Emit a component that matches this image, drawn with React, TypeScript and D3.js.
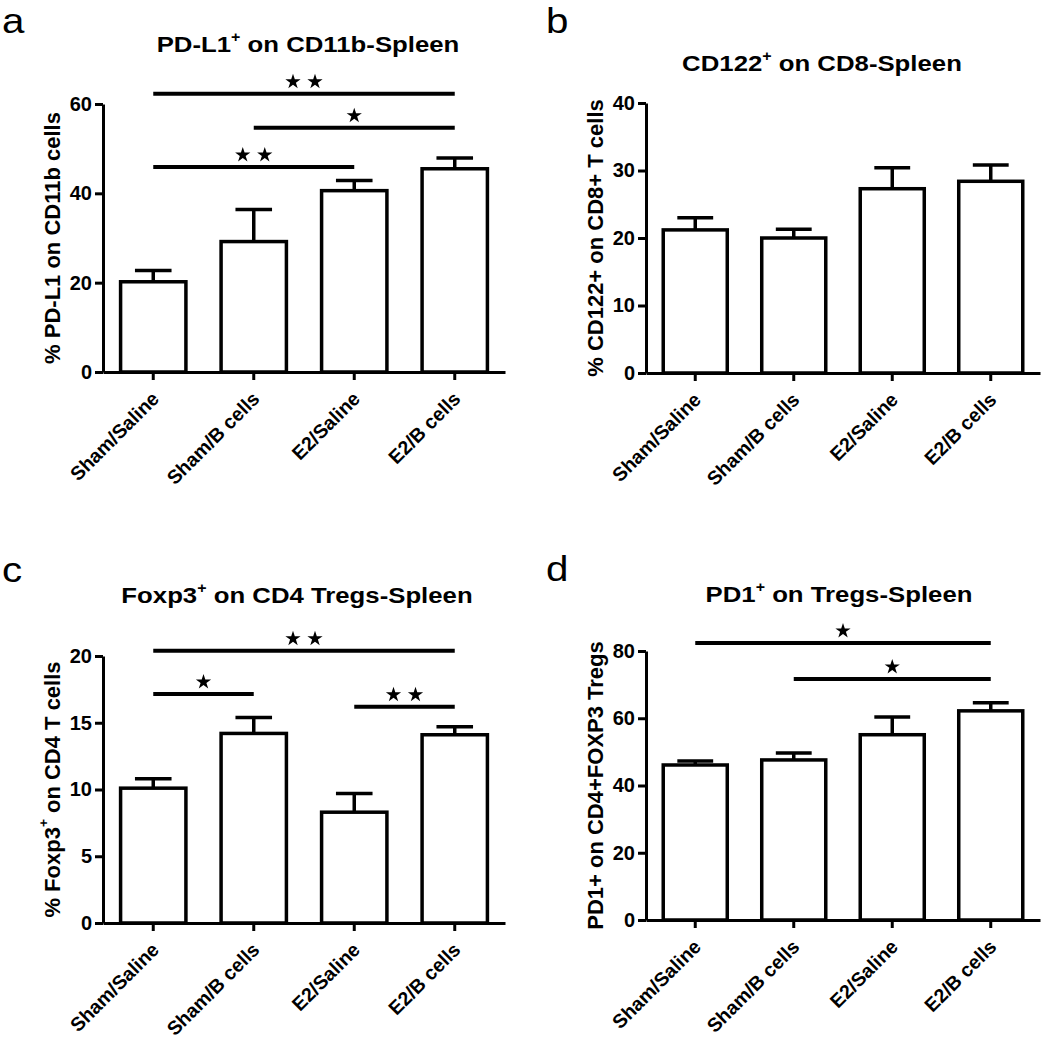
import React, { useEffect, useRef } from 'react';
import * as d3 from 'd3';

const groups = ['Sham/Saline', 'Sham/B cells', 'E2/Saline', 'E2/B cells'];

// a: PD-L1+ on CD11b
const pdl1Mean = [20.2, 29.2, 40.6, 45.5];
const pdl1Err = [2.5, 7.2, 2.3, 2.4];
const pdl1Ticks = [0, 20, 40, 60];

// b: CD122+ on CD8
const cd122Mean = [21.2, 20.0, 27.3, 28.4];
const cd122Err = [1.8, 1.3, 3.1, 2.4];
const cd122Ticks = [0, 10, 20, 30, 40];

// c: Foxp3+ on CD4
const foxp3Mean = [10.1, 14.2, 8.3, 14.1];
const foxp3Err = [0.7, 1.2, 1.4, 0.6];
const foxp3Ticks = [0, 5, 10, 15, 20];

// d: PD1+ on Tregs
const pd1Mean = [46.1, 47.6, 55.1, 62.2];
const pd1Err = [1.2, 2.1, 5.3, 2.4];
const pd1Ticks = [0, 20, 40, 60, 80];

// significance brackets: [from group, to group, height (data units), stars]
const pdl1Sig = [[0, 3, 62.3, 2], [1, 3, 54.7, 1], [0, 2, 45.9, 2]];
const cd122Sig: number[][] = [];
const foxp3Sig = [[0, 3, 20.4, 2], [0, 1, 17.15, 1], [2, 3, 16.2, 2]];
const pd1Sig = [[0, 3, 82.4, 1], [1, 3, 71.7, 1]];

const FONT = 'Arial, "Liberation Sans", Helvetica, sans-serif';
const SX = 1.12; // the original lettering is a bit wide

interface PanelSpec {
  letter: string;
  letterX: number;
  letterY: number;
  title: string[];
  titleX: number;
  titleY: number;
  yLabel: string[];
  yLabelX: number;
  mean: number[];
  err: number[];
  ticks: number[];
  sig: number[][];
  left: number;
  right: number;
  bottom: number;
  top: number;
}

const panels: PanelSpec[] = [
  {
    letter: 'a', letterX: 2, letterY: 33,
    title: ['PD-L1', '+', ' on CD11b-Spleen'], titleX: 308, titleY: 52,
    yLabel: ['% PD-L1 on CD11b cells'], yLabelX: 52,
    mean: pdl1Mean, err: pdl1Err, ticks: pdl1Ticks, sig: pdl1Sig,
    left: 103, right: 505, bottom: 372, top: 104,
  },
  {
    letter: 'b', letterX: 546, letterY: 33,
    title: ['CD122', '+', ' on CD8-Spleen'], titleX: 822, titleY: 71,
    yLabel: ['% CD122+ on CD8+ T cells'], yLabelX: 595,
    mean: cd122Mean, err: cd122Err, ticks: cd122Ticks, sig: cd122Sig,
    left: 646, right: 1040, bottom: 373, top: 103,
  },
  {
    letter: 'c', letterX: 2, letterY: 582,
    title: ['Foxp3', '+', ' on CD4 Tregs-Spleen'], titleX: 297, titleY: 603,
    yLabel: ['% Foxp3', '+', ' on CD4 T cells'], yLabelX: 52,
    mean: foxp3Mean, err: foxp3Err, ticks: foxp3Ticks, sig: foxp3Sig,
    left: 103, right: 505, bottom: 923, top: 656,
  },
  {
    letter: 'd', letterX: 546, letterY: 581,
    title: ['PD1', '+', ' on Tregs-Spleen'], titleX: 839, titleY: 602,
    yLabel: ['PD1+ on CD4+FOXP3 Tregs'], yLabelX: 595,
    mean: pd1Mean, err: pd1Err, ticks: pd1Ticks, sig: pd1Sig,
    left: 646, right: 1040, bottom: 920, top: 651,
  },
];

const SupText: React.FC<{ parts: string[]; size: number }> = ({ parts, size }) => {
  if (parts.length < 3) return <>{parts[0]}</>;
  return (
    <>
      {parts[0]}
      <tspan fontSize={size * 0.62} dy={-size * 0.42}>{parts[1]}</tspan>
      <tspan dy={size * 0.42}>{parts[2]}</tspan>
    </>
  );
};

const BarPanel: React.FC<{ p: PanelSpec }> = ({ p }) => {
  const ref = useRef<SVGGElement>(null);

  useEffect(() => {
    if (!ref.current) return;
    const g = d3.select(ref.current);
    g.selectAll('*').remove();

    const x = d3.scaleBand<string>()
      .domain(groups)
      .range([p.left, p.right])
      .paddingInner(0.35)
      .paddingOuter(0.175);
    const y = d3.scaleLinear()
      .domain([0, d3.max(p.ticks) as number])
      .range([p.bottom, p.top]);
    const bw = x.bandwidth();
    const cx = (i: number) => (x(groups[i]) as number) + bw / 2;
    const capW = bw * 0.56;

    // bars
    g.append('g')
      .selectAll('rect')
      .data(p.mean)
      .join('rect')
      .attr('x', (d, i) => x(groups[i]) as number)
      .attr('y', d => y(d))
      .attr('width', bw)
      .attr('height', d => p.bottom - y(d))
      .attr('fill', '#fff')
      .attr('stroke', '#000')
      .attr('stroke-width', 3.5);

    // upper error bars
    const eb = g.append('g').attr('stroke', '#000').attr('stroke-width', 3.5);
    eb.selectAll('line.stem')
      .data(p.mean)
      .join('line')
      .attr('class', 'stem')
      .attr('x1', (d, i) => cx(i))
      .attr('x2', (d, i) => cx(i))
      .attr('y1', d => y(d))
      .attr('y2', (d, i) => y(d + p.err[i]));
    eb.selectAll('line.cap')
      .data(p.mean)
      .join('line')
      .attr('class', 'cap')
      .attr('x1', (d, i) => cx(i) - capW / 2)
      .attr('x2', (d, i) => cx(i) + capW / 2)
      .attr('y1', (d, i) => y(d + p.err[i]))
      .attr('y2', (d, i) => y(d + p.err[i]));

    // axes
    const yAxis = g.append('g')
      .attr('transform', `translate(${p.left},0)`)
      .call(d3.axisLeft(y).tickValues(p.ticks).tickSize(8).tickSizeOuter(0).tickPadding(3).tickFormat(d3.format('d')));
    const xAxis = g.append('g')
      .attr('transform', `translate(0,${p.bottom})`)
      .call(d3.axisBottom(x).tickSize(8).tickSizeOuter(0));

    [yAxis, xAxis].forEach(a => {
      a.attr('font-family', FONT).attr('font-weight', 'bold');
      a.select('.domain').attr('stroke-width', 3);
      a.selectAll('.tick line').attr('stroke-width', 3);
    });
    yAxis.attr('font-size', 20);
    xAxis.attr('font-size', 19.5);

    xAxis.selectAll('.tick text')
      .attr('x', 0)
      .attr('y', 0)
      .attr('dy', 0)
      .attr('text-anchor', 'end')
      .attr('transform', 'translate(7,28) rotate(-45)');

    // significance brackets
    const sg = g.append('g');
    sg.selectAll('line')
      .data(p.sig)
      .join('line')
      .attr('x1', d => cx(d[0]))
      .attr('x2', d => cx(d[1]))
      .attr('y1', d => y(d[2]))
      .attr('y2', d => y(d[2]))
      .attr('stroke', '#000')
      .attr('stroke-width', 4);

    const star = d3.symbol(d3.symbolStar, 72)() as string;
    p.sig.forEach(d => {
      const n = d[3];
      const mx = (cx(d[0]) + cx(d[1])) / 2;
      for (let k = 0; k < n; k++) {
        sg.append('path')
          .attr('d', star)
          .attr('fill', '#000')
          .attr('transform', `translate(${mx + (k - (n - 1) / 2) * 22},${y(d[2]) - 12})`);
      }
    });
  }, [p]);

  const midY = (p.bottom + p.top) / 2;

  return (
    <g>
      <text
        transform={`translate(${p.letterX},${p.letterY}) scale(${SX},1)`}
        fontSize={36}
        fontFamily={FONT}
        fill="#000"
      >
        {p.letter}
      </text>
      <text
        transform={`translate(${p.titleX},${p.titleY}) scale(${SX},1)`}
        textAnchor="middle"
        fontSize={23}
        fontWeight="bold"
        fontFamily={FONT}
        fill="#000"
      >
        <SupText parts={p.title} size={23} />
      </text>
      <text
        transform={`translate(${p.yLabelX},${midY}) rotate(-90)`}
        textAnchor="middle"
        dominantBaseline="central"
        fontSize={22}
        fontWeight="bold"
        fontFamily={FONT}
        fill="#000"
      >
        <SupText parts={p.yLabel} size={22} />
      </text>
      <g ref={ref} />
    </g>
  );
};

export default function App() {
  return (
    <svg
      width={1050}
      height={1039}
      viewBox="0 0 1050 1039"
      style={{ position: 'absolute', left: 0, top: 0, display: 'block', background: '#fff' }}
    >
      <rect width={1050} height={1039} fill="#fff" />
      {panels.map(p => (
        <BarPanel key={p.letter} p={p} />
      ))}
    </svg>
  );
}
